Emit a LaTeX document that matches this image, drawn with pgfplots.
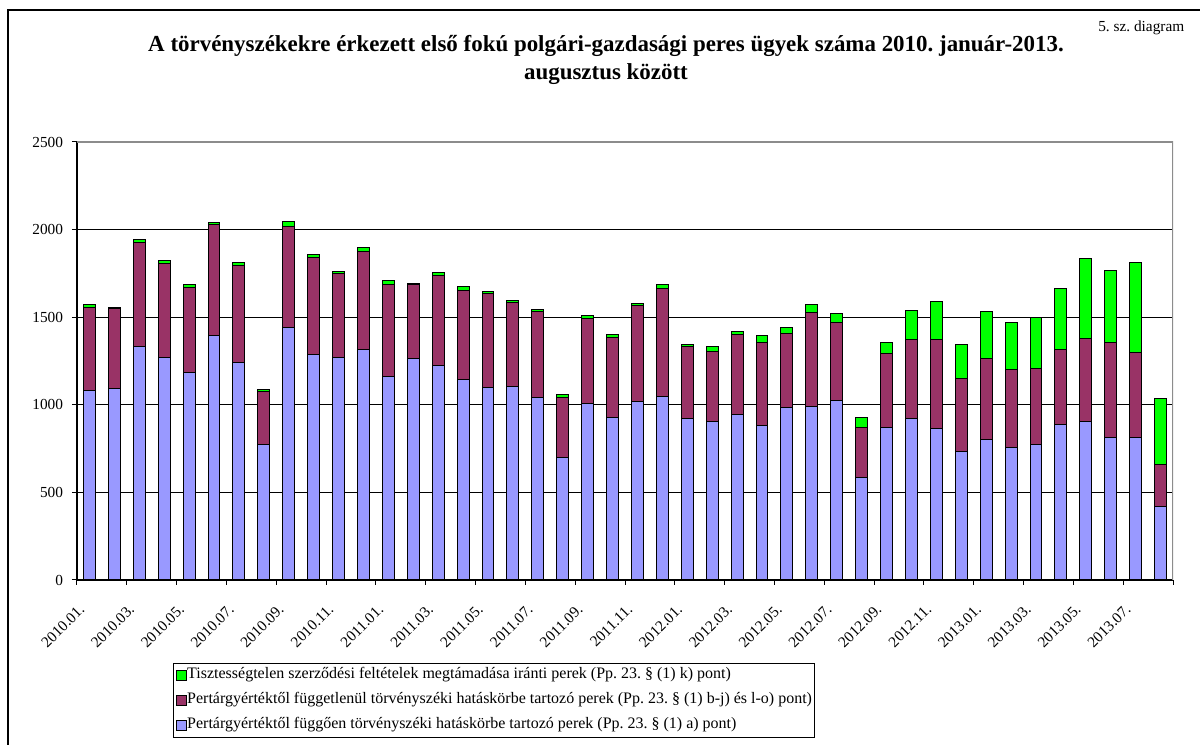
\documentclass[border=0pt]{standalone}
\usepackage{fontspec}
\setmainfont{Liberation Serif}
\usepackage{pgfplots}
\pgfplotsset{compat=1.18}
\usepackage{pgfplotstable}
\definecolor{cBlue}{HTML}{9999FF}
\definecolor{cPurple}{HTML}{993366}
\definecolor{cGreen}{HTML}{00FF00}
\definecolor{cFrame}{HTML}{8C8C8C}

\pgfplotsset{sqlegend/.style={legend image code/.code={\draw[##1] (0pt,-3.75pt) rectangle (7.5pt,3.75pt);}}}

% idx: 0 = 2010.01. ... 43 = 2013.08.
\pgfplotstableread{
idx blue purple green
0  1082 474 15
1  1091 456 7
2  1334 593 16
3  1268 539 15
4  1182 485 18
5  1393 636 13
6  1239 558 14
7  772  302 15
8  1439 579 28
9  1285 558 15
10 1268 484 7
11 1315 560 21
12 1162 527 19
13 1264 423 8
14 1224 515 17
15 1145 508 21
16 1099 535 13
17 1107 478 11
18 1040 495 10
19 700  340 17
20 1006 484 21
21 928  454 19
22 1019 547 15
23 1046 617 21
24 921  410 13
25 907  395 29
26 943  456 21
27 884  469 42
28 985  423 36
29 991  533 51
30 1023 448 51
31 583  286 61
32 869  422 62
33 922  448 167
34 864  508 215
35 731  421 192
36 803  463 266
37 759  441 269
38 776  429 291
39 888  425 353
40 907  471 459
41 812  545 410
42 816  482 515
43 421  239 374
}\ugyek

\begin{document}
\frenchspacing
\begin{tikzpicture}[x=0.75pt,y=0.75pt]
\useasboundingbox (0,0) rectangle (1200,745);
\draw[line width=1.1pt] (8,0) -- (8,735) -- (1200,735);

\node[font=\bfseries\fontsize{17.2}{20}\selectfont, anchor=base] at (606,693)
  {A törvényszékekre érkezett első fokú polgári-gazdasági peres ügyek száma 2010. január-2013.};
\node[font=\bfseries\fontsize{17.2}{20}\selectfont, anchor=base] at (606,665)
  {augusztus között};
\node[font=\fontsize{11.5}{13}\selectfont, anchor=base east] at (1189,713) {5. sz. diagram};

\begin{axis}[
    at={(57.75pt,123.75pt)}, anchor=south west,
    scale only axis,
    width=822pt, height=328.5pt,
    ybar stacked,
    bar width=0.48,
    xmin=-0.5, xmax=43.5,
    ymin=0, ymax=2500,
    ytick={0,500,...,2500},
    xtick={0,2,...,42},
    xticklabels={2010.01.,2010.03.,2010.05.,2010.07.,2010.09.,2010.11.,
                 2011.01.,2011.03.,2011.05.,2011.07.,2011.09.,2011.11.,
                 2012.01.,2012.03.,2012.05.,2012.07.,2012.09.,2012.11.,
                 2013.01.,2013.03.,2013.05.,2013.07.},
    minor xtick={-0.5,1.5,...,43.5},
    axis x line*=bottom, axis y line*=left,
    axis line style={-, black, line width=1pt},
    tick align=outside,
    major x tick style={draw=none},
    minor x tick style={black, line width=0.75pt},
    major y tick style={black, line width=0.75pt},
    major tick length=3.75pt, minor tick length=3.75pt,
    ymajorgrids=true,
    major grid style={black, line width=0.6pt},
    /pgf/number format/1000 sep={},
    /pgf/number format/assume math mode=true,
    yticklabel style={font=\fontsize{11.5}{13}\selectfont, inner sep=0pt, xshift=-6.5pt},
    xticklabel style={font=\fontsize{11.5}{13}\selectfont, inner sep=0pt,
                      xshift=-5.6pt, yshift=-16.5pt, rotate=45, anchor=east},
    reverse legend,
    legend cell align=left,
    legend style={at={(0.0876,-0.1895)}, anchor=north west,
                  draw=black, line width=0.75pt,
                  font=\fontsize{12}{13}\selectfont,
                  inner xsep=2pt, inner ysep=3.5pt, row sep=7.75pt,
                  nodes={inner sep=0pt, text height=8pt, text depth=3pt}},
  ]
\addplot[fill=cBlue, draw=black, line width=0.75pt, sqlegend]
  table[x=idx, y=blue] {\ugyek};
\addplot[fill=cPurple, draw=black, line width=0.75pt, sqlegend]
  table[x=idx, y=purple] {\ugyek};
\addplot[fill=cGreen, draw=black, line width=0.75pt, sqlegend]
  table[x=idx, y=green] {\ugyek};
\legend{Pertárgyértéktől függően törvényszéki hatáskörbe tartozó perek (Pp. 23. § (1) a) pont),
        Pertárgyértéktől függetlenül törvényszéki hatáskörbe tartozó perek (Pp. 23. § (1) b-j) és l-o) pont),
        Tisztességtelen szerződési feltételek megtámadása iránti perek (Pp. 23. § (1) k) pont)}
\draw[cFrame, line width=1pt] (rel axis cs:0,1) -- (rel axis cs:1,1) -- (rel axis cs:1,0);
\end{axis}
\end{tikzpicture}
\end{document}
